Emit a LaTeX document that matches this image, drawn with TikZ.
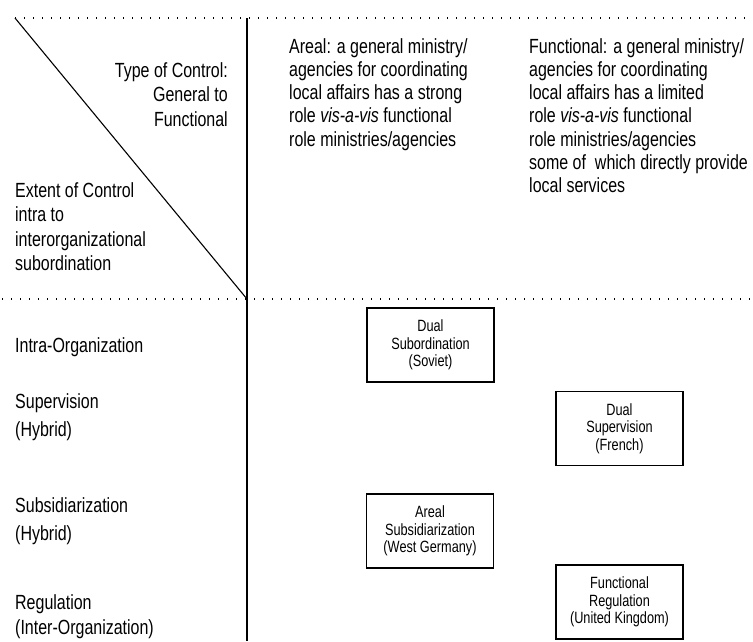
\documentclass[tikz,border=0pt]{standalone}
\usepackage{fontspec}
\setmainfont{Liberation Sans}[FakeStretch=0.78]
\newcommand\headtxt{\fontsize{20.5}{24.5}\selectfont}
\newcommand\coltxt{\fontsize{20.5}{23.3}\selectfont}
\newcommand\celltxt{\fontsize{16.3}{17.5}\selectfont}
\begin{document}
\begin{tikzpicture}[x=1pt,y=-1pt,
    dots/.style={line width=1.3pt,dash pattern=on 1.3pt off 7.7pt},
    cell/.style={draw,line width=1.1pt,minimum width=127pt,minimum height=74pt,align=center,font=\celltxt},
    lbl/.style={inner sep=0pt,anchor=north west,align=left}]
\useasboundingbox (0,0) rectangle (753,641);
\coordinate (tl) at (15,18);
\coordinate (corner) at (247,299);
\coordinate (vtop) at (247,18);
\coordinate (vbot) at (247,641);
% frame
\draw[dots](tl)--(753,18);
\draw[dots](2,299)--(753,299);
\draw[line width=1.1pt](tl)--(corner);
\draw[line width=1.3pt](vtop)--(vbot);
% headings
\node[lbl,anchor=north east,align=right,font=\headtxt](type) at (228,62){Type of Control:\\General to\\Functional};
\node[lbl,font=\headtxt](extent) at (15,182){Extent of Control\\intra to\\interorganizational\\subordination};
\node[lbl,font=\coltxt](areal) at (289,38){Areal: a general ministry/\\agencies for coordinating\\local affairs has a strong\\role \textit{vis-a-vis} functional\\role ministries/agencies};
\node[lbl,font=\coltxt](functional) at (529,38){Functional: a general ministry/\\agencies for coordinating\\local affairs has a limited\\role \textit{vis-a-vis} functional\\role ministries/agencies\\some of~ which directly provide\\local services};
% rows
\foreach \name/\y/\sp/\txt in {intra/337/28.5/{Intra-Organization},super/393/28.5/{Supervision\\(Hybrid)},subsid/497/28.5/{Subsidiarization\\(Hybrid)},regul/594/25.5/{Regulation\\(Inter-Organization)}}
{
    \node[lbl,font={\fontsize{20.5}{\sp}\selectfont}](\name) at (15,\y){\txt};
}
% cells
\node[cell](soviet) at (430.5,345){Dual\\Subordination\\(Soviet)};
\node[cell](french) at (619.5,428.5){Dual\\Supervision\\(French)};
\node[cell](germany) at (430,531){Areal\\Subsidiarization\\(West Germany)};
\node[cell](uk) at (619.5,602){Functional\\Regulation\\(United Kingdom)};
\end{tikzpicture}
\end{document}
